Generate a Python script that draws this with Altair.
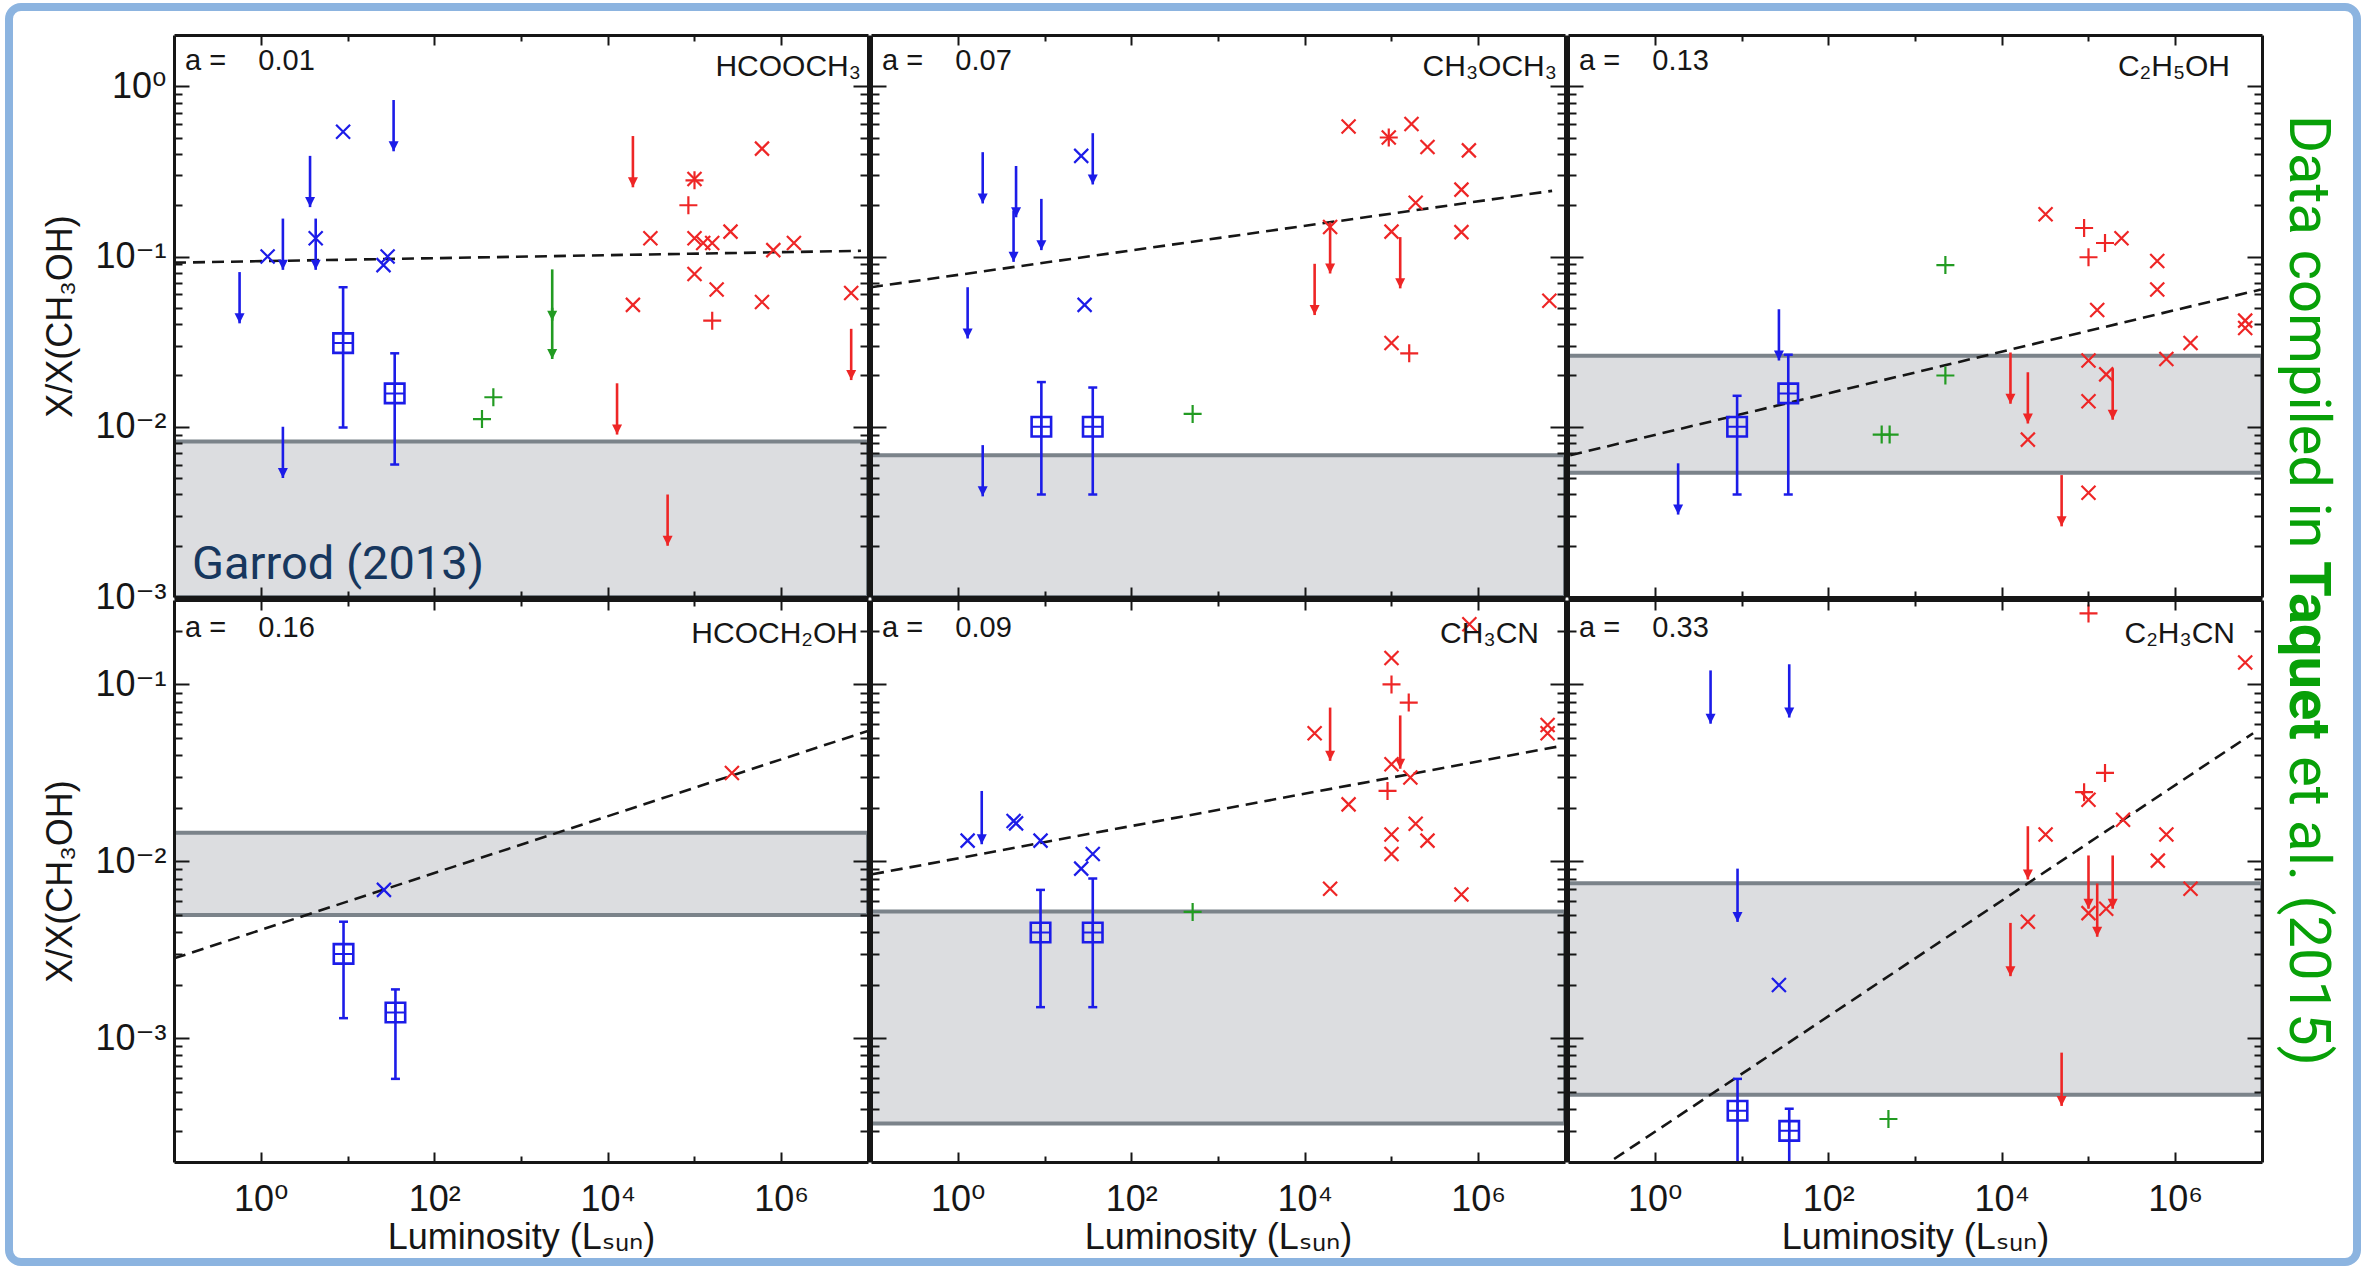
import altair as alt
import pandas as pd

# ---------------------------------------------------------------- data
XDOM = [0.1, 1e7]
YDOM = [[1e-3, 2.0], [2e-4, 0.3]]

MOLECULES = ["HCOOCH₃", "CH₃OCH₃", "C₂H₅OH", "HCOCH₂OH", "CH₃CN", "C₂H₃CN"]
SLOPES = ["0.01", "0.07", "0.13", "0.16", "0.09", "0.33"]

CLASSES = ["low", "inter", "high"]

# --- HCOOCH3
HCOOCH3_CROSS = [
    (8.9, 0.54, "low"), (1.2, 0.10, "low"), (4.3, 0.128, "low"), (29, 0.10, "low"), (26, 0.089, "low"),
    (1.0e5, 0.285, "high"), (3.1e4, 0.128, "high"), (1.0e5, 0.128, "high"), (1.26e5, 0.12, "high"),
    (1.6e5, 0.12, "high"), (2.6e5, 0.14, "high"), (6.0e5, 0.43, "high"), (8.1e5, 0.109, "high"),
    (1.4e6, 0.12, "high"), (1.0e5, 0.079, "high"), (1.8e5, 0.064, "high"), (1.95e4, 0.052, "high"),
    (6.0e5, 0.054, "high"), (6.4e6, 0.061, "high"),
]
HCOOCH3_PLUS = [(355, 0.0111, "inter"), (480, 0.0149, "inter"), (8.5e4, 0.2, "high"),
                (1.0e5, 0.28, "high"), (1.6e5, 0.042, "high")]
HCOOCH3_SQUARE = [(8.9, 0.031, 0.0099, 0.066), (35, 0.0157, 0.006, 0.027)]
HCOOCH3_UPPER = [(34, 0.83, "low"), (3.7, 0.39, "low"), (1.8, 0.167, "low"), (4.3, 0.167, "low"),
                 (0.57, 0.081, "low"), (1.8, 0.010, "low"), (2290, 0.084, "inter"), (2290, 0.05, "inter"),
                 (1.95e4, 0.51, "high"), (6.4e6, 0.0376, "high"), (1.28e4, 0.018, "high"), (4.9e4, 0.004, "high")]
HCOOCH3_FIT = [(0.1, 0.092), (8.3e6, 0.108)]
HCOOCH3_BAND = (1e-3, 0.0082)

# --- CH3OCH3
CH3OCH3_CROSS = [
    (26.5, 0.39, "low"), (29, 0.052, "low"),
    (3.2e4, 0.58, "high"), (1.7e5, 0.6, "high"), (2.6e5, 0.44, "high"), (7.8e5, 0.42, "high"),
    (6.4e5, 0.247, "high"), (1.9e5, 0.207, "high"), (1.96e4, 0.149, "high"), (1.0e5, 0.14, "high"),
    (6.4e5, 0.139, "high"), (6.6e6, 0.055, "high"), (1.0e5, 0.031, "high"), (9.3e4, 0.5, "high"),
]
CH3OCH3_PLUS = [(510, 0.0119, "inter"), (9.3e4, 0.5, "high"), (1.6e5, 0.027, "high")]
CH3OCH3_SQUARE = [(9.2, 0.01, 0.004, 0.0183), (36, 0.01, 0.004, 0.017)]
CH3OCH3_UPPER = [(1.94, 0.41, "low"), (4.7, 0.34, "low"), (4.4, 0.186, "low"), (9.2, 0.218, "low"),
                 (36, 0.53, "low"), (1.3, 0.066, "low"), (1.94, 0.0078, "low"),
                 (1.96e4, 0.159, "high"), (1.26e5, 0.13, "high"), (1.3e4, 0.0906, "high")]
CH3OCH3_FIT = [(0.1, 0.066), (7.1e6, 0.243)]
CH3OCH3_BAND = (1e-3, 0.0068)

# --- C2H5OH
C2H5OH_CROSS = [
    (3.2e4, 0.177, "high"), (2.4e5, 0.128, "high"), (6.2e5, 0.094, "high"), (6.2e5, 0.064, "high"),
    (1.26e5, 0.0485, "high"), (6.4e6, 0.042, "high"), (6.4e6, 0.038, "high"), (1.5e6, 0.031, "high"),
    (7.9e5, 0.025, "high"), (1.0e5, 0.0245, "high"), (1.6e5, 0.0203, "high"), (1.0e5, 0.0141, "high"),
    (2.0e4, 0.0084, "high"), (1.0e5, 0.0041, "high"),
]
C2H5OH_PLUS = [(2240, 0.089, "inter"), (2240, 0.02, "inter"), (413, 0.009, "inter"), (510, 0.009, "inter"),
               (8.9e4, 0.147, "high"), (1.55e5, 0.12, "high"), (1.0e5, 0.099, "high")]
C2H5OH_SQUARE = [(8.9, 0.01, 0.004, 0.0152), (34.6, 0.0157, 0.004, 0.0265)]
C2H5OH_UPPER = [(1.86, 0.0061, "low"), (27, 0.049, "low"),
                (1.9e5, 0.022, "high"), (1.26e4, 0.0273, "high"), (2.0e4, 0.0209, "high"), (4.9e4, 0.0052, "high")]
C2H5OH_FIT = [(0.106, 0.0068), (9.7e6, 0.064)]
C2H5OH_BAND = (0.00536, 0.0261)

# --- HCOCH2OH
HCOCH2OH_CROSS = [(2.7e5, 0.0316, "high"), (26.3, 0.0069, "low")]
HCOCH2OH_PLUS = []
HCOCH2OH_SQUARE = [(9.0, 0.003, 0.0013, 0.00456), (35.7, 0.0014, 0.00059, 0.00189)]
HCOCH2OH_UPPER = []
HCOCH2OH_FIT = [(0.1, 0.00283), (1e7, 0.0546)]
HCOCH2OH_BAND = (0.00498, 0.0145)

# --- CH3CN
CH3CN_CROSS = [
    (1.3, 0.0131, "low"), (4.4, 0.0169, "low"), (4.7, 0.0164, "low"), (9.0, 0.0131, "low"),
    (26.5, 0.0091, "low"), (36, 0.011, "low"),
    (1.0e5, 0.141, "high"), (1.3e4, 0.053, "high"), (6.3e6, 0.059, "high"), (6.3e6, 0.053, "high"),
    (1.0e5, 0.0354, "high"), (1.65e5, 0.0298, "high"), (3.2e4, 0.021, "high"), (1.9e5, 0.0163, "high"),
    (2.6e5, 0.0131, "high"), (1.0e5, 0.0142, "high"), (1.0e5, 0.011, "high"), (1.96e4, 0.007, "high"),
    (6.4e5, 0.0065, "high"), (7.9e5, 0.219, "high"),
]
CH3CN_PLUS = [(510, 0.00518, "inter"), (1.0e5, 0.1, "high"), (1.58e5, 0.079, "high"), (9.0e4, 0.025, "high")]
CH3CN_SQUARE = [(9.0, 0.00396, 0.0015, 0.0069), (36, 0.00396, 0.0015, 0.008)]
CH3CN_UPPER = [(1.89, 0.025, "low"), (1.26e5, 0.0668, "high"), (1.96e4, 0.074, "high")]
CH3CN_FIT = [(0.103, 0.00845), (8.4e6, 0.0446)]
CH3CN_BAND = (0.00033, 0.0052)

# --- C2H3CN
C2H3CN_CROSS = [
    (27, 0.002, "low"),
    (6.4e6, 0.133, "high"), (1.0e5, 0.0223, "high"), (2.5e5, 0.0172, "high"), (3.2e4, 0.0142, "high"),
    (7.9e5, 0.0142, "high"), (6.3e5, 0.0101, "high"), (1.5e6, 0.007, "high"), (1.0e5, 0.0051, "high"),
    (1.6e5, 0.0054, "high"), (2.0e4, 0.00456, "high"),
]
C2H3CN_PLUS = [(494, 0.00035, "inter"), (1.0e5, 0.252, "high"), (1.55e5, 0.0316, "high"), (8.9e4, 0.0246, "high")]
C2H3CN_SQUARE = [(9.0, 0.00039, 0.0001, 0.00059), (35.5, 0.0003, 0.0001, 0.0004)]
C2H3CN_UPPER = [(4.4, 0.12, "low"), (35.5, 0.13, "low"), (9.0, 0.0091, "low"),
                (2.0e4, 0.0158, "high"), (1.0e5, 0.0108, "high"), (1.9e5, 0.0108, "high"),
                (1.26e5, 0.0075, "high"), (1.26e4, 0.00449, "high"), (4.9e4, 0.00083, "high")]
C2H3CN_FIT = [(0.34, 0.000208), (7.9e6, 0.053)]
C2H3CN_BAND = (0.00048, 0.00753)

CROSSES = [HCOOCH3_CROSS, CH3OCH3_CROSS, C2H5OH_CROSS, HCOCH2OH_CROSS, CH3CN_CROSS, C2H3CN_CROSS]
PLUSES = [HCOOCH3_PLUS, CH3OCH3_PLUS, C2H5OH_PLUS, HCOCH2OH_PLUS, CH3CN_PLUS, C2H3CN_PLUS]
SQUARES = [HCOOCH3_SQUARE, CH3OCH3_SQUARE, C2H5OH_SQUARE, HCOCH2OH_SQUARE, CH3CN_SQUARE, C2H3CN_SQUARE]
UPPERS = [HCOOCH3_UPPER, CH3OCH3_UPPER, C2H5OH_UPPER, HCOCH2OH_UPPER, CH3CN_UPPER, C2H3CN_UPPER]
FITS = [HCOOCH3_FIT, CH3OCH3_FIT, C2H5OH_FIT, HCOCH2OH_FIT, CH3CN_FIT, C2H3CN_FIT]
BANDS = [HCOOCH3_BAND, CH3OCH3_BAND, C2H5OH_BAND, HCOCH2OH_BAND, CH3CN_BAND, C2H3CN_BAND]

X_MAJOR = [1, 100, 1e4, 1e6]
X_MAJOR_LABELS = ["10⁰", "10²", "10⁴", "10⁶"]
X_MINOR = [10, 1000, 1e5]
Y_MAJOR = [[1e-3, 1e-2, 1e-1, 1.0], [1e-3, 1e-2, 1e-1]]
Y_MAJOR_LABELS = [["10⁻³", "10⁻²", "10⁻¹", "10⁰"], ["10⁻³", "10⁻²", "10⁻¹"]]
Y_MINOR = [
    [k * 10.0 ** e for e in (-3, -2, -1, 0) for k in range(2, 10) if k * 10.0 ** e < 1.99],
    [k * 10.0 ** e for e in (-4, -3, -2, -1) for k in range(2, 10) if 2.01e-4 < k * 10.0 ** e < 0.299],
]

XTITLE = "Luminosity (Lₛᵤₙ)"
YTITLE = "X/X(CH₃OH)"

# ---------------------------------------------------------------- style / layout
W, H = 694, 562
FONT = "Liberation Sans, Arial, DejaVu Sans, sans-serif"
INK = "#161616"
CLASS_COLORS = ["#1c1ce8", "#229b22", "#ee2626"]
BAND_FILL = "#dcdde0"
BAND_EDGE = "#7b838a"
FRAME_BLUE = "#8cb4e0"
FRAME_BOX = (-165, 2183, -28, 1227)
NBSP = "\u00a0"
X_PATH = "M-1,-1L1,1M-1,1L1,-1"
PLUS_PATH = "M-1,0L1,0M0,-1L0,1"
HEAD_PATH = "M-1,-2L1,-2L0,0Z"
MOL_RIGHT = [687, 686, 662, 684, 668, 667]
A_Y = [26, 28]
MOL_Y = [32, 34]
ONE = pd.DataFrame({"k": [0]})
AXIS_DF = pd.DataFrame({"L": [1.0], "v": [0.01]})


def label_expr(vals, labels):
    expr = "'" + labels[-1] + "'"
    for v, lab in reversed(list(zip(vals[:-1], labels[:-1]))):
        expr = f"datum.value < {v * 3} ? '{lab}' : {expr}"
    return expr


def panel(i):
    row, col = divmod(i, 3)
    xs = alt.Scale(type="log", domain=XDOM)
    ys = alt.Scale(type="log", domain=YDOM[row])
    cs = alt.Scale(domain=CLASSES, range=CLASS_COLORS)

    def X(f, axis=None):
        return alt.X(f, type="quantitative", scale=xs, axis=axis)

    def Y(f, axis=None):
        return alt.Y(f, type="quantitative", scale=ys, axis=axis)

    C = alt.Color("cls:N", scale=cs, legend=None)
    layers = []

    if i == 0:
        layers.append(alt.Chart(ONE).mark_rect(filled=False, stroke=FRAME_BLUE, strokeWidth=8, cornerRadius=12).encode(
            x=alt.value(FRAME_BOX[0]), x2=alt.value(FRAME_BOX[1]),
            y=alt.value(FRAME_BOX[2]), y2=alt.value(FRAME_BOX[3])))

    lo, hi = BANDS[i]
    band_df = pd.DataFrame({"L": [XDOM[0]], "L2": [XDOM[1]], "v": [lo], "v2": [hi]})
    layers.append(alt.Chart(band_df).mark_rect(fill=BAND_FILL, stroke=BAND_EDGE, strokeWidth=4, clip=True).encode(
        x=X("L"), x2=alt.X2("L2"), y=Y("v"), y2=alt.Y2("v2")))

    fit = pd.DataFrame(FITS[i], columns=["L", "v"])
    layers.append(alt.Chart(fit).mark_line(color=INK, strokeWidth=2.6, strokeDash=[12, 7], clip=True).encode(
        x=X("L"), y=Y("v")))

    if SQUARES[i]:
        sq = pd.DataFrame(SQUARES[i], columns=["L", "v", "lo", "hi"]).assign(cls="low")
        layers.append(alt.Chart(sq).mark_rule(strokeWidth=2.6, clip=True).encode(
            x=X("L"), y=Y("lo"), y2=alt.Y2("hi"), color=C))
        caps = pd.concat([sq[["L", "lo", "cls"]].rename(columns={"lo": "v"}),
                          sq[["L", "hi", "cls"]].rename(columns={"hi": "v"})])
        layers.append(alt.Chart(caps).mark_tick(orient="horizontal", size=9, thickness=2.5, opacity=1, clip=True).encode(
            x=X("L"), y=Y("v"), color=C))
        layers.append(alt.Chart(sq).mark_point(shape="square", filled=False, size=380, strokeWidth=2.6, opacity=1, clip=True).encode(
            x=X("L"), y=Y("v"), color=C))
        layers.append(alt.Chart(sq).mark_point(shape=PLUS_PATH, filled=False, size=380, strokeWidth=2.0, opacity=1, clip=True).encode(
            x=X("L"), y=Y("v"), color=C))

    if UPPERS[i]:
        up = pd.DataFrame(UPPERS[i], columns=["L", "v", "cls"])
        base = alt.Chart(up).transform_calculate(tail="datum.v * 0.5")
        layers.append(base.mark_rule(strokeWidth=2.6, clip=True).encode(
            x=X("L"), y=Y("v"), y2=alt.Y2("tail"), color=C))
        layers.append(base.mark_point(shape=HEAD_PATH, filled=True, size=100, opacity=1, clip=True).encode(
            x=X("L"), y=Y("tail:Q"), color=C))

    if CROSSES[i]:
        cr = pd.DataFrame(CROSSES[i], columns=["L", "v", "cls"])
        layers.append(alt.Chart(cr).mark_point(shape=X_PATH, filled=False, size=196, strokeWidth=2.2, opacity=1, clip=True).encode(
            x=X("L"), y=Y("v"), color=C))

    if PLUSES[i]:
        pl = pd.DataFrame(PLUSES[i], columns=["L", "v", "cls"])
        layers.append(alt.Chart(pl).mark_point(shape=PLUS_PATH, filled=False, size=324, strokeWidth=2.2, opacity=1, clip=True).encode(
            x=X("L"), y=Y("v"), color=C))

    # panel texts
    layers.append(alt.Chart(pd.DataFrame({"t": ["a =" + NBSP * 4 + SLOPES[i]]})).mark_text(
        align="left", baseline="middle", font=FONT, fontSize=29, color=INK).encode(
        text="t:N", x=alt.value(11), y=alt.value(A_Y[row])))
    layers.append(alt.Chart(pd.DataFrame({"t": [MOLECULES[i]]})).mark_text(
        align="right", baseline="middle", font=FONT, fontSize=30, color=INK).encode(
        text="t:N", x=alt.value(MOL_RIGHT[i]), y=alt.value(MOL_Y[row])))

    if i == 0:
        layers.append(alt.Chart(pd.DataFrame({"t": ["Garrod (2013)"]})).mark_text(
            align="left", baseline="alphabetic", font="Roboto", fontSize=47, color="#17375e").encode(
            text="t:N", x=alt.value(18), y=alt.value(544)))
    if i == 2:
        for txt, yy, wt in [("Data compiled in", 80, "normal"), ("Taquet", 526, "bold"), ("et al. (2015)", 721, "normal")]:
            layers.append(alt.Chart(pd.DataFrame({"t": [txt]})).mark_text(
                align="left", baseline="alphabetic", angle=90, font="Roboto", fontSize=58,
                fontWeight=wt, color="#08a008").encode(
                text="t:N", x=alt.value(722), y=alt.value(yy)))

    # axes (frame + inward ticks)
    frame_x_b = alt.Axis(orient="bottom", domain=True, domainColor=INK, domainWidth=3, ticks=False,
                         labels=False, title=None, grid=False, zindex=1)
    frame_y_l = alt.Axis(orient="left", domain=True, domainColor=INK, domainWidth=3, ticks=False,
                         labels=False, title=None, grid=False, zindex=1)
    frame_x_t = alt.Axis(orient="top", domain=True, domainColor=INK, domainWidth=3, ticks=False,
                         labels=False, title=None, grid=False, zindex=1)
    frame_y_r = alt.Axis(orient="right", domain=True, domainColor=INK, domainWidth=3, ticks=False,
                         labels=False, title=None, grid=False, zindex=1)

    tick_common = dict(domain=False, grid=False, zindex=1, tickColor=INK, tickWidth=2)
    if row == 1:
        xmaj = alt.Axis(orient="bottom", values=X_MAJOR, tickSize=10, offset=-10, labels=True,
                        labelExpr=label_expr(X_MAJOR, X_MAJOR_LABELS), labelFont=FONT, labelFontSize=36,
                        labelColor=INK, labelPadding=20, labelFlush=False,
                        title=XTITLE, titleX=W / 2, titleY=85, titleBaseline="middle", titleAlign="center",
                        titleFont=FONT, titleFontSize=36, titleFontWeight="normal", titleColor=INK, **tick_common)
    else:
        xmaj = alt.Axis(orient="bottom", values=X_MAJOR, tickSize=10, offset=-10, labels=False,
                        title=None, **tick_common)
    if col == 0:
        ymaj = alt.Axis(orient="left", values=Y_MAJOR[row], tickSize=15, offset=-15, labels=True,
                        labelExpr=label_expr(Y_MAJOR[row], Y_MAJOR_LABELS[row]), labelFont=FONT,
                        labelFontSize=36, labelColor=INK, labelPadding=8,
                        title=YTITLE, titleX=-129, titleY=H / 2, titleAngle=270, titleBaseline="middle",
                        titleAlign="center", titleFont=FONT, titleFontSize=36, titleFontWeight="normal",
                        titleColor=INK, **tick_common)
    else:
        ymaj = alt.Axis(orient="left", values=Y_MAJOR[row], tickSize=15, offset=-15, labels=False,
                        title=None, **tick_common)
    xmin = alt.Axis(orient="bottom", values=X_MINOR, tickSize=6, offset=-6, labels=False, title=None, **tick_common)
    ymin = alt.Axis(orient="left", values=Y_MINOR[row], tickSize=8, offset=-8, labels=False, title=None, **tick_common)
    xmaj_t = alt.Axis(orient="top", values=X_MAJOR, tickSize=10, offset=-10, labels=False, title=None, **tick_common)
    xmin_t = alt.Axis(orient="top", values=X_MINOR, tickSize=6, offset=-6, labels=False, title=None, **tick_common)
    ymaj_r = alt.Axis(orient="right", values=Y_MAJOR[row], tickSize=15, offset=-15, labels=False, title=None, **tick_common)
    ymin_r = alt.Axis(orient="right", values=Y_MINOR[row], tickSize=8, offset=-8, labels=False, title=None, **tick_common)

    for xa, ya in [(xmaj, ymaj), (xmin, ymin), (xmaj_t, ymaj_r), (xmin_t, ymin_r),
                   (frame_x_b, frame_y_l), (frame_x_t, frame_y_r)]:
        layers.append(alt.Chart(AXIS_DF).mark_point(opacity=0).encode(x=X("L", xa), y=Y("v", ya)))

    return alt.layer(*layers).resolve_axis(x="independent", y="independent").properties(width=W, height=H)


chart = alt.concat(*[panel(i) for i in range(6)], columns=3, spacing=3, bounds="flush").properties(
    padding={"left": 5, "top": 3, "right": 0, "bottom": 0}, background="white"
).configure_view(strokeWidth=0)

chart.save("out.html", embed_options={"renderer": "svg", "actions": False})
